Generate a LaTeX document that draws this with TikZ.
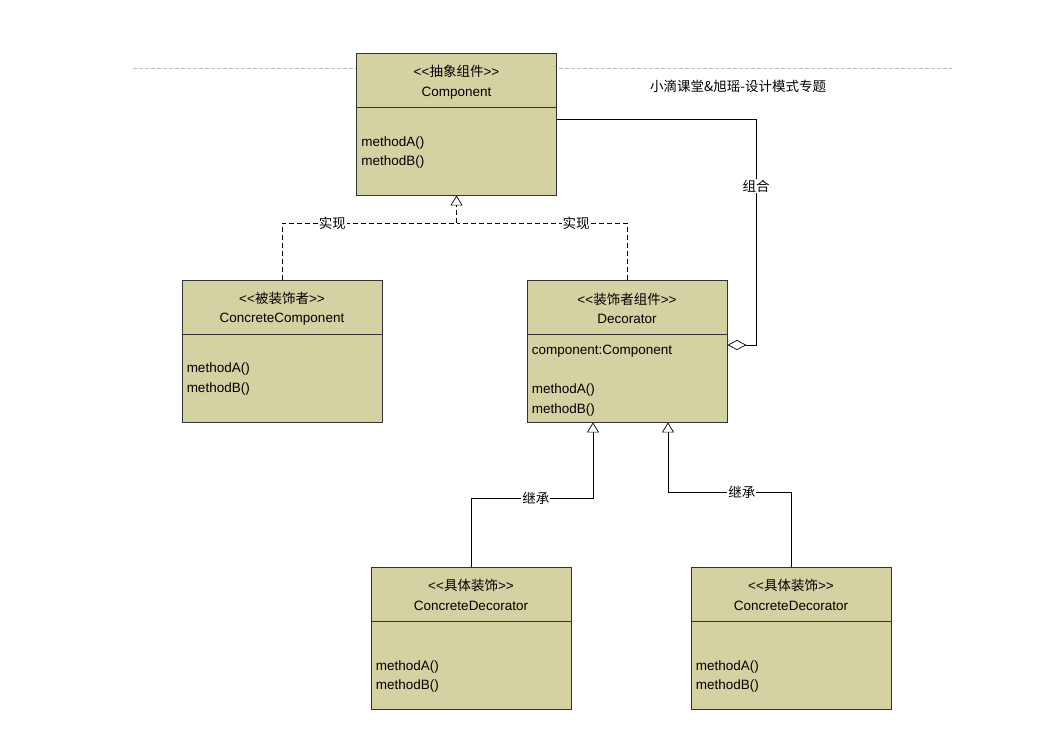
\documentclass[tikz,border=0pt]{standalone}
\usepackage{fontspec}
\setmainfont{Liberation Sans}
\newfontfamily\cjk{Noto Sans CJK SC}
\usepackage{xcolor}
\usepackage{tikz}
\usetikzlibrary{arrows.meta,positioning}

\definecolor{khaki}{RGB}{212,210,163}
\definecolor{rule}{RGB}{185,185,185}

\begin{document}
\begin{tikzpicture}[
  x=1pt, y=-1pt,
  every node/.style={font=\fontsize{13.5}{19.5}\selectfont},
  classbox/.style={draw=black!80, fill=khaki, line width=0.9pt,
    minimum width=200pt, minimum height=142pt, inner sep=0pt},
  head/.style={align=center, inner sep=0pt},
  body/.style={align=left, anchor=west, inner sep=0pt},
  divider/.style={draw=black!80, line width=0.9pt},
  lbl/.style={fill=white, inner sep=1pt},
  realize/.style={dashed, dash pattern=on 5pt off 3pt, line width=0.7pt},
  inherit/.style={line width=0.7pt, -{Triangle[open, length=10pt, width=12pt]}},
  aggr/.style={line width=0.7pt, -{Diamond[open, length=19pt, width=10pt]}}
]
  \useasboundingbox (0,0) rectangle (1046,736);

  \draw[rule, dash pattern=on 4pt off 2pt, line width=0.6pt] (133,68) -- (952,68);
  \node[anchor=west, inner sep=0pt] (title) at (650,86) {\cjk 小滴课堂\&旭瑶-设计模式专题};

  \node[classbox] (comp) at (456.5,124) {};
  \draw[divider] (comp.west |- 0,107) -- (comp.east |- 0,107);
  \node[head] (comp-t) at (456.5,82) {<{}<{\cjk 抽象组件}>{}>\\Component};
  \node[body] (comp-m) at ([xshift=5pt]comp.west |- 0,152.5) {methodA()\\methodB()};

  \node[classbox] (ccomp) at (282,351) {};
  \draw[divider] (ccomp.west |- 0,334) -- (ccomp.east |- 0,334);
  \node[head] (ccomp-t) at (282,308.5) {<{}<{\cjk 被装饰者}>{}>\\ConcreteComponent};
  \node[body] (ccomp-m) at ([xshift=5pt]ccomp.west |- 0,379) {methodA()\\methodB()};

  \node[classbox] (deco) at (627,351) {};
  \draw[divider] (deco.west |- 0,334) -- (deco.east |- 0,334);
  \node[head] (deco-t) at (627,308.5) {<{}<{\cjk 装饰者组件}>{}>\\Decorator};
  \node[body] (deco-m) at ([xshift=5pt]deco.west |- 0,380.5)
    {component:Component\\\mbox{}\\methodA()\\methodB()};

  \node[classbox] (cdeco1) at (471,638.5) {};
  \draw[divider] (cdeco1.west |- 0,621) -- (cdeco1.east |- 0,621);
  \node[head] (cdeco1-t) at (471,595) {<{}<{\cjk 具体装饰}>{}>\\ConcreteDecorator};
  \node[body] (cdeco1-m) at ([xshift=5pt]cdeco1.west |- 0,676.5) {methodA()\\methodB()};

  \node[classbox] (cdeco2) at (791,638.5) {};
  \draw[divider] (cdeco2.west |- 0,621) -- (cdeco2.east |- 0,621);
  \node[head] (cdeco2-t) at (791,595) {<{}<{\cjk 具体装饰}>{}>\\ConcreteDecorator};
  \node[body] (cdeco2-m) at ([xshift=5pt]cdeco2.west |- 0,676.5) {methodA()\\methodB()};

  \coordinate (realj) at (comp.south |- 0,223);
  \draw[realize] (ccomp.north) |- node[lbl, pos=0.644] {\cjk 实现} (realj);
  \draw[realize] (deco.north) |- node[lbl, pos=0.649] {\cjk 实现} (realj);
  \draw[realize, -{Triangle[open, length=10pt, width=12pt]}] (realj) -- (comp.south);

  \coordinate (aggbend) at (756,345);
  \draw[aggr] ([yshift=5pt]comp.east) -| node[lbl, pos=0.648] {\cjk 组合} (aggbend)
    -- ([yshift=6pt]deco.east);

  \coordinate (inhA) at ([xshift=-34pt]deco.south);
  \coordinate (inhB) at ([xshift=41pt]deco.south);
  \draw[inherit] (cdeco1.north) |- node[lbl, pos=0.766] {\cjk 继承} (inhA |- 0,498) -- (inhA);
  \draw[inherit] (cdeco2.north) |- node[lbl, pos=0.70] {\cjk 继承} (inhB |- 0,492) -- (inhB);
\end{tikzpicture}
\end{document}
